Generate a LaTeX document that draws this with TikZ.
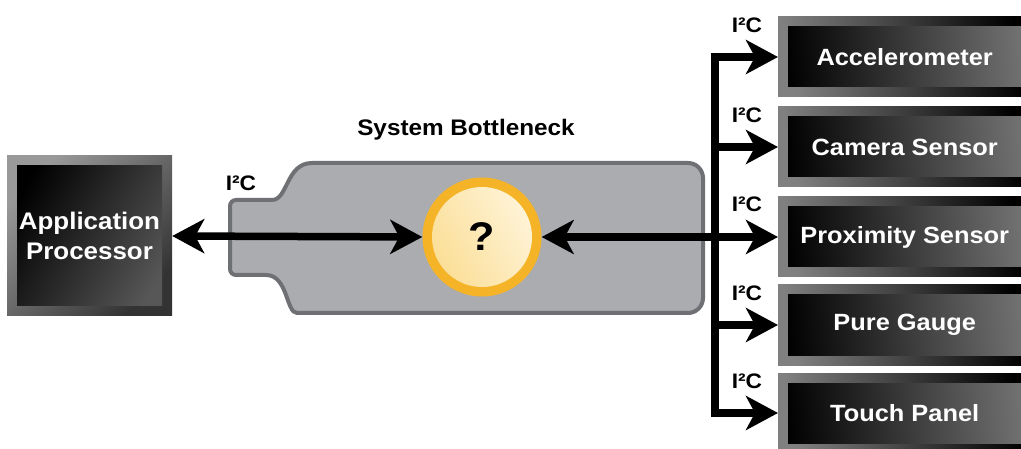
\documentclass[tikz,border=0pt]{standalone}
\usepackage{fontspec}
\setmainfont[FakeStretch=1.08]{Liberation Sans}
\usetikzlibrary{arrows.meta}
\definecolor{bottlefill}{HTML}{ABACAF}
\definecolor{bottleedge}{HTML}{6F7074}
\definecolor{ringc}{HTML}{F5B427}
\definecolor{coreA}{HTML}{FBDD92}
\definecolor{coreB}{HTML}{FFF5DC}
\begin{document}
\begin{tikzpicture}[x=1pt,y=-1pt,
  >={Stealth[length=32pt,width=34pt,inset=9pt]},
  wire/.style={line width=7.5pt, draw=black, line join=miter},
  chipbox/.style={minimum width=165pt, minimum height=160pt, inner sep=0pt,
    align=center, text=white, font=\fontsize{24}{30}\selectfont\bfseries,
    left color=black!40, right color=black!80, shading angle=45,
    path picture={\shade[left color=black, right color=black!66, shading angle=60]
      ([shift={(10pt,-10pt)}]path picture bounding box.north west) rectangle
      ([shift={(-10pt,10pt)}]path picture bounding box.south east);}},
  sensor/.style={anchor=west, minimum width=253pt, minimum height=80pt, inner sep=0pt,
    text=white, font=\fontsize{23.5}{28}\selectfont\bfseries,
    left color=black!50, right color=black, shading angle=100,
    path picture={\shade[left color=black, middle color=black!85, right color=black!55, shading angle=95]
      ([shift={(10pt,-10pt)}]path picture bounding box.north west) rectangle
      ([shift={(-10pt,10pt)}]path picture bounding box.south east);}},
  buslabel/.style={font=\fontsize{21}{24}\selectfont\bfseries, inner sep=0pt},
  corenode/.style={circle, minimum size=119pt, inner sep=0pt, fill=ringc,
    font=\fontsize{40}{44}\selectfont\bfseries,
    path picture={\shade[left color=coreA, right color=coreB, shading angle=120]
      (path picture bounding box.center) circle (50pt);}}
]
\useasboundingbox (0,0) rectangle (1021,449);

% bottle-shaped bottleneck region
\draw[fill=bottlefill, draw=bottleedge, line width=4pt]
  (230,237) [rounded corners=6pt] -- (230,200) -- (266,200)
  [rounded corners=0pt] .. controls (288,200) and (286,163) .. (312,163)
  [rounded corners=15pt] -- (703,163) -- (703,313) -- (312,313)
  [rounded corners=0pt] .. controls (286,313) and (288,275) .. (266,275)
  [rounded corners=6pt] -- (230,275) -- cycle;

\node[font=\fontsize{22.5}{26}\selectfont\bfseries] (title) at (466,130) {System Bottleneck};

% host processor
\node[chipbox] (ap) at (89.5,236) {Application\\Processor};

% bottleneck core
\node[corenode] (q) at (482,237) {?};

% peripheral devices
\node[sensor] (acc)  at (778,57)  {Accelerometer};
\node[sensor] (cam)  at (778,147) {Camera Sensor};
\node[sensor] (prox) at (778,237) {Proximity Sensor};
\node[sensor] (pg)   at (778,325) {Pure Gauge};
\node[sensor] (tp)   at (778,413) {Touch Panel};

% bus labels
\node[buslabel] (l0) at (241,183) {I²C};
\node[buslabel] (l1) at (747,25)  {I²C};
\node[buslabel] (l2) at (747,115) {I²C};
\node[buslabel] (l3) at (747,204) {I²C};
\node[buslabel] (l4) at (747,293) {I²C};
\node[buslabel] (l5) at (747,381) {I²C};

% bus wiring
\coordinate (btop) at (715,57);
\coordinate (bbot) at (715,413);
\coordinate (bcam) at (715,147);
\coordinate (bpg)  at (715,325);

\draw[wire,<->] (ap.east) -- (q.west);
\draw[wire,<->] (q.east) -- (prox.west);
\draw[wire,<->] (acc.west) -- (btop) -- (bbot) -- (tp.west);
\draw[wire,->] (bcam) -- (cam.west);
\draw[wire,->] (bpg) -- (pg.west);
\end{tikzpicture}
\end{document}
